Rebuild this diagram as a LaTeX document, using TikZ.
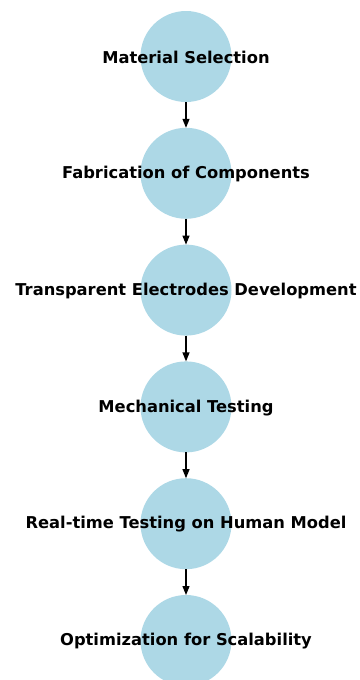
\documentclass[tikz,border=0pt]{standalone}
\usepackage{fontspec}
\setmainfont{DejaVu Sans}
\usetikzlibrary{positioning,arrows.meta}
\definecolor{stageblue}{RGB}{173,216,230}
\tikzset{stage/.style={circle,fill=stageblue,minimum size=91pt,inner sep=0pt,outer sep=0pt},
	stagetext/.style={font=\fontsize{16.3}{19}\selectfont\bfseries,inner sep=0pt,yshift=-0.7pt},
	flow/.style={-{Triangle[length=9pt,width=7pt]},line width=1.2pt}}

\begin{document}
\begin{tikzpicture}[x=1pt,y=1pt]
		%%%%% START %%%%%
		\useasboundingbox (0,0) rectangle (359,-680);
		
		\node[stage] (mat) at (186,-56.5) {};
		\node[stage, below=25.8pt of mat] (fab) {};
		\node[stage, below=25.8pt of fab] (elec) {};
		\node[stage, below=25.8pt of elec] (mech) {};
		\node[stage, below=25.8pt of mech] (real) {};
		\node[stage, below=25.8pt of real] (opt) {};
		
		\node[stagetext] (matT) at (mat) {Material Selection};
		\node[stagetext] (fabT) at (fab) {Fabrication of Components};
		\node[stagetext] (elecT) at (elec) {Transparent Electrodes Development};
		\node[stagetext] (mechT) at (mech) {Mechanical Testing};
		\node[stagetext] (realT) at (real) {Real-time Testing on Human Model};
		\node[stagetext] (optT) at (opt) {Optimization for Scalability};
		
		\draw[flow] (mat) -- (fab);
		\draw[flow] (fab) -- (elec);
		\draw[flow] (elec) -- (mech);
		\draw[flow] (mech) -- (real);
		\draw[flow] (real) -- (opt);
		%%%%% END %%%%%
\end{tikzpicture}
\end{document}
